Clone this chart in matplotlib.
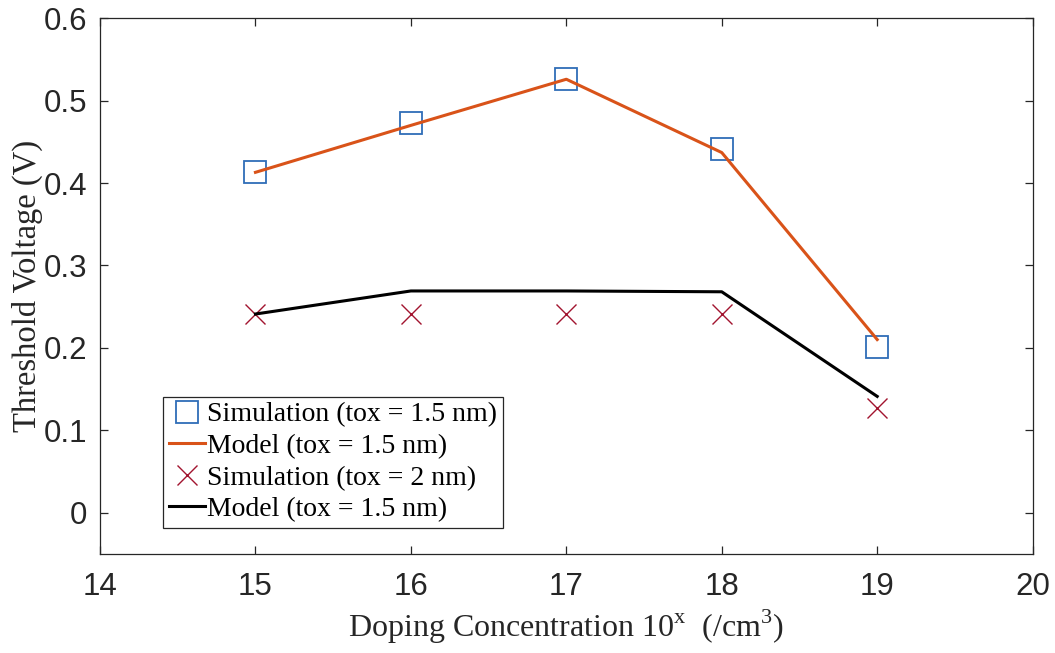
import matplotlib
matplotlib.use('Agg')
import matplotlib.pyplot as plt

# doping exponent (10^x /cm^3)
doping = [15, 16, 17, 18, 19]

sim_15 = [0.413, 0.473, 0.526, 0.441, 0.201]
model_15 = [0.413, 0.470, 0.526, 0.437, 0.210]
sim_2 = [0.241, 0.241, 0.241, 0.241, 0.127]
model_2 = [0.241, 0.269, 0.269, 0.268, 0.141]

labels = ['Simulation (tox = 1.5 nm)', 'Model (tox = 1.5 nm)',
          'Simulation (tox = 2 nm)', 'Model (tox = 1.5 nm)']

fig = plt.figure(figsize=(10.55, 6.53), dpi=100)
ax = fig.add_axes([0.0948, 0.152, 0.884, 0.820])

ax.plot(doping, sim_15, 's', ms=16, mfc='none', mec='#2F6DB8', mew=1.3, label=labels[0])
ax.plot(doping, model_15, '-', color='#D95319', lw=2.2, label=labels[1])
ax.plot(doping, sim_2, 'x', ms=15, mec='#A2142F', mew=1.0, label=labels[2])
ax.plot(doping, model_2, '-', color='black', lw=2.2, label=labels[3])

ax.set_xlim(14, 20)
ax.set_ylim(-0.05, 0.6)
ax.set_xticks([14, 15, 16, 17, 18, 19, 20])
ax.set_yticks([0, 0.1, 0.2, 0.3, 0.4, 0.5, 0.6])
ax.set_yticklabels(['0', '0.1', '0.2', '0.3', '0.4', '0.5', '0.6'])

for sp in ax.spines.values():
    sp.set_color('#262626')
    sp.set_linewidth(0.9)
ax.tick_params(direction='in', top=True, right=True, length=6, width=0.9,
               color='#262626', labelsize=22.5)
ax.tick_params(axis='x', pad=13)
ax.tick_params(axis='y', pad=9)
for t in ax.get_xticklabels() + ax.get_yticklabels():
    t.set_fontfamily('Liberation Sans')
    t.set_color('#262626')

ax.set_xlabel(r'Doping Concentration 10$^{\mathregular{x}}$  (/cm$^{\mathregular{3}}$)',
              fontfamily='Liberation Serif', fontsize=23, color='#262626', labelpad=4)
ax.set_ylabel('Threshold Voltage (V)', fontfamily='Liberation Serif', fontsize=23.5,
              color='#262626', labelpad=1)

leg = ax.legend(loc='lower left', bbox_to_anchor=(0.0675, 0.0485), borderaxespad=0,
                prop={'family': 'Liberation Serif', 'size': 20}, fancybox=False,
                edgecolor='#262626', framealpha=1, handlelength=1.3,
                handletextpad=0.1, borderpad=0.2, labelspacing=0.22)
leg.get_frame().set_linewidth(0.9)

fig.savefig('out.png', dpi=100)
